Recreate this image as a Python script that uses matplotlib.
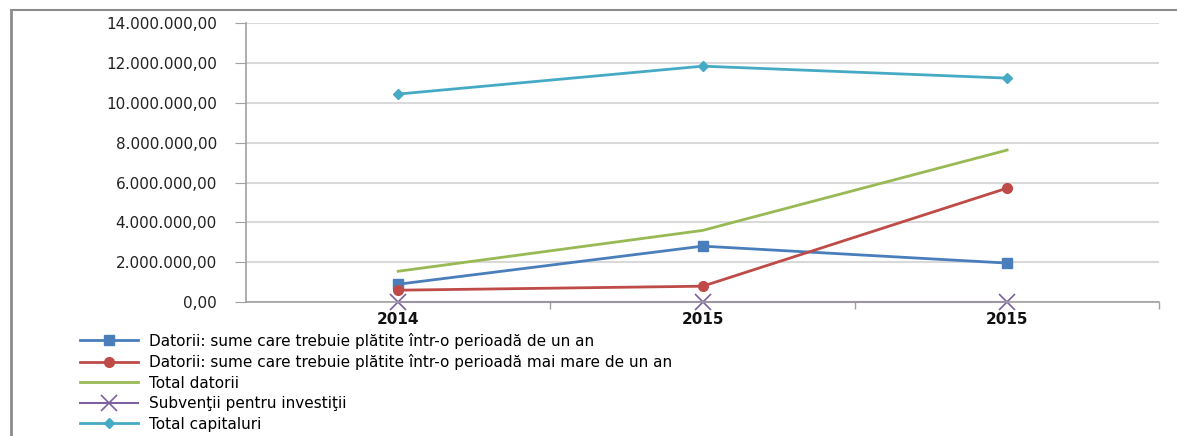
import matplotlib
matplotlib.use("Agg")
import matplotlib.pyplot as plt
from matplotlib.lines import Line2D
from matplotlib.ticker import FuncFormatter, FixedLocator

years = ["2014", "2015", "2015"]

datorii_un_an = [900000, 2810000, 1960000]
datorii_peste_un_an = [600000, 800000, 5720000]
total_datorii = [1550000, 3600000, 7630000]
subventii = [0, 0, 0]
total_capitaluri = [10440000, 11840000, 11240000]

labels = [
    "Datorii: sume care trebuie plătite într-o perioadă de un an",
    "Datorii: sume care trebuie plătite într-o perioadă mai mare de un an",
    "Total datorii",
    "Subvenţii pentru investiţii",
    "Total capitaluri",
]

plt.rcParams['font.family'] = ['DejaVu Sans']

fig = plt.figure(figsize=(11.77, 4.36), dpi=100)
ax = fig.add_axes([0.209, 0.307, 0.776, 0.640])

x = list(range(len(years)))
ax.plot(x, datorii_un_an, color='#4a7ebb', lw=2, marker='s', ms=7, label=labels[0])
ax.plot(x, datorii_peste_un_an, color='#be4b48', lw=2, marker='o', ms=7, label=labels[1])
ax.plot(x, total_datorii, color='#98b954', lw=2, label=labels[2])
ax.plot(x, subventii, color='#7d60a0', lw=1.5, marker='x', ms=11, mew=1.2, label=labels[3], clip_on=False)
ax.plot(x, total_capitaluri, color='#46aac5', lw=2, marker='D', ms=5, label=labels[4])

ax.set_xlim(-0.5, 2.5)
ax.set_ylim(0, 14000000)
ax.set_yticks(range(0, 14000001, 2000000))
ax.yaxis.set_major_formatter(FuncFormatter(
    lambda v, p: f"{v:,.2f}".replace(",", " ").replace(".", ",").replace(" ", ".")))
ax.set_xticks(x)
ax.set_xticklabels(years, fontweight='bold', fontsize=11, color='#111111')
ax.xaxis.set_minor_locator(FixedLocator([0.5, 1.5, 2.5]))
ax.tick_params(axis='x', which='major', length=0, pad=7)
ax.tick_params(axis='x', which='minor', length=5, color='#a0a0a0', width=1)
ax.tick_params(axis='y', length=8, pad=13, color='#a0a0a0', labelsize=11, labelcolor='#222222')

ax.grid(axis='y', color='#d9d9d9', lw=1.5)
ax.set_axisbelow(True)
for s in ['top', 'right']:
    ax.spines[s].set_visible(False)
ax.spines['left'].set_color('#a0a0a0')
ax.spines['bottom'].set_color('#a0a0a0')
ax.spines['left'].set_linewidth(1.2)
ax.spines['bottom'].set_linewidth(1.2)

fig.legend(loc='upper left', bbox_to_anchor=(0.068, 0.237), frameon=False,
           fontsize=11, handlelength=3.8, handletextpad=0.7, labelspacing=0.36,
           borderaxespad=0, borderpad=0)

# outer border of the chart area
fig.add_artist(Line2D([0.009, 0.009], [0.0, 0.977], transform=fig.transFigure,
                      color='#8c8c8c', lw=2))
fig.add_artist(Line2D([0.009, 1.0], [0.977, 0.977], transform=fig.transFigure,
                      color='#8c8c8c', lw=1.5))

fig.savefig("out.png", dpi=100)
